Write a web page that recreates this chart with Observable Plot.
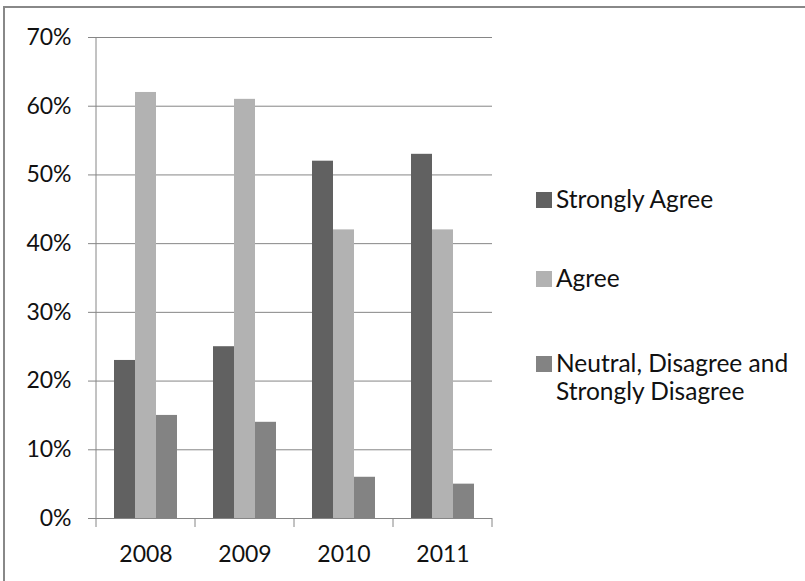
<!DOCTYPE html>
<html>
<head>
<meta charset="utf-8">
<script src="https://cdn.jsdelivr.net/npm/d3@7"></script>
<script src="https://cdn.jsdelivr.net/npm/@observablehq/plot@0.6"></script>
<style>
  html, body { margin: 0; padding: 0; background: #fff; }
  #wrap { position: relative; width: 805px; height: 581px; overflow: hidden; font-family: Lato, sans-serif; }
  #frame { position: absolute; left: 3px; top: 6px; width: 810px; height: 590px; border-left: 2px solid #888; border-top: 2px solid #888; box-sizing: border-box; }
  #chart { position: absolute; left: 0; top: 0; }
  .leg { position: absolute; left: 536px; font-size: 24.5px; line-height: 28px; color: #111; }
  .leg .sw { position: absolute; left: 0; top: 7px; width: 16px; height: 16px; }
  .leg .tx { position: absolute; left: 20px; top: 0; white-space: nowrap; }
</style>
</head>
<body>
<div id="wrap">
  <div id="frame"></div>
  <div id="chart"></div>
</div>
<script>
const years = ["2008", "2009", "2010", "2011"];
const series = ["Strongly Agree", "Agree", "Neutral, Disagree and Strongly Disagree"];
const legendLines = [["Strongly Agree"], ["Agree"], ["Neutral, Disagree and", "Strongly Disagree"]];
const stronglyAgree = [0.23, 0.25, 0.52, 0.53];
const agree = [0.62, 0.61, 0.42, 0.42];
const neutral = [0.15, 0.14, 0.06, 0.05];
const yTicks = [0, 0.1, 0.2, 0.3, 0.4, 0.5, 0.6, 0.7];
const colors = ["#616161", "#b2b2b2", "#838383"];

const values = [stronglyAgree, agree, neutral];
const data = years.flatMap((yr, i) => series.map((s, j) => ({year: yr, series: s, value: values[j][i]})));

const axisGray = "#868686";

const plot = Plot.plot({
  width: 805,
  height: 581,
  marginLeft: 94,
  marginRight: 312,
  marginTop: 37,
  marginBottom: 63,
  style: {fontFamily: "Lato, sans-serif", fontSize: "23px", color: "#111", background: "transparent", overflow: "visible"},
  fx: {domain: years, padding: 0, label: null, tickSize: 0, tickPadding: 27},
  x: {domain: series, paddingInner: 0, paddingOuter: 0.77, axis: null},
  y: {domain: [0, 0.7], ticks: yTicks, tickFormat: d3.format(".0%"), tickSize: 8, tickPadding: 17, label: null},
  color: {domain: series, range: colors},
  marks: [
    Plot.ruleY(yTicks.slice(1), {stroke: axisGray, strokeWidth: 1}),
    Plot.barY(data, {fx: "year", x: "series", y: "value", fill: "series"}),
    Plot.ruleY([0], {stroke: axisGray, strokeWidth: 1})
  ]
});

document.getElementById("chart").appendChild(plot);

// Style y-axis tick marks gray, add y-axis line and category boundary ticks via scales
const svg = d3.select(plot);
svg.selectAll('g[aria-label="y-axis tick"] path, g[aria-label="y-axis tick"] line').attr("stroke", axisGray);
const fx = plot.scale("fx");
const y = plot.scale("y");
const x0 = fx.apply(years[0]);
svg.append("line")
  .attr("x1", x0).attr("x2", x0)
  .attr("y1", y.apply(0)).attr("y2", y.apply(0.7))
  .attr("stroke", axisGray);
const edges = years.map(yr => fx.apply(yr)).concat([fx.apply(years[years.length - 1]) + fx.bandwidth]);
svg.append("g").selectAll("line").data(edges).join("line")
  .attr("x1", d => d).attr("x2", d => d)
  .attr("y1", y.apply(0)).attr("y2", y.apply(0) + 9)
  .attr("stroke", axisGray);

// Legend
const legTops = [185, 264, 349];
const wrap = document.getElementById("wrap");
series.forEach((s, i) => {
  const item = document.createElement("div");
  item.className = "leg";
  item.style.top = legTops[i] + "px";
  const sw = document.createElement("div");
  sw.className = "sw";
  sw.style.background = colors[i];
  const tx = document.createElement("div");
  tx.className = "tx";
  tx.innerHTML = legendLines[i].join("<br>");
  item.appendChild(sw);
  item.appendChild(tx);
  wrap.appendChild(item);
});
</script>
</body>
</html>
